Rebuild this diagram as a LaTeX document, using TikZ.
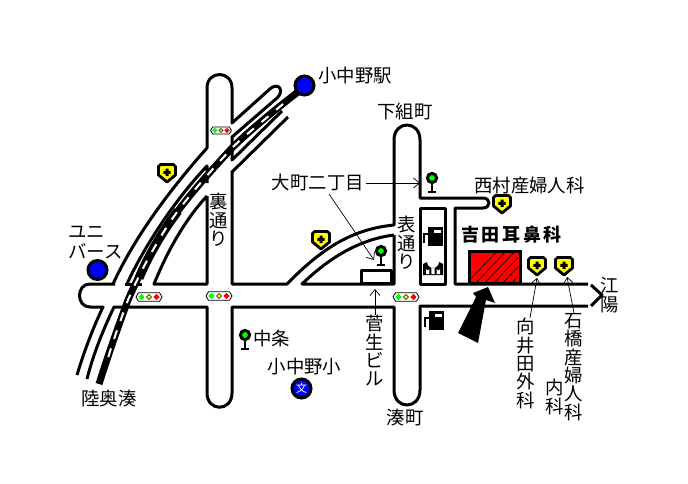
\documentclass[tikz,border=0pt]{standalone}
\usepackage{fontspec}
\usetikzlibrary{arrows.meta}
\newfontfamily\jp{Noto Sans CJK JP}
\definecolor{mapblue}{RGB}{0,0,255}
\definecolor{mapgreen}{RGB}{0,255,0}
\definecolor{mapyellow}{RGB}{255,255,0}
\definecolor{mapred}{RGB}{255,0,0}
\tikzset{
  road/.style={line width=3pt,line join=round},
  lead/.style={line width=0.7pt,-{Straight Barb[length=6pt,width=10pt,line width=0.7pt]}},
  lab/.style={font=\jp\fontsize{18.4}{18.4}\selectfont,align=center,inner sep=0pt,text=black},
  bluedot/.style={circle,draw=black,fill=mapblue,line width=3pt,minimum size=19pt,inner sep=0pt},
}
\newcommand{\HospMark}[2]{\begin{scope}[shift={(#1,#2)}]
  \draw[fill=mapyellow,line width=2.8pt,line join=round] (-6.5,-8.5)--(6.5,-8.5)--(8.5,-6.5)--(8.5,2)--(0,9)--(-8.5,2)--(-8.5,-6.5)--cycle;
  \fill[black] (-1.5,-4.5)rectangle(1.5,3) (-3.7,-2.2)rectangle(3.7,0.8);
\end{scope}}
\newcommand{\SignalMark}[3]{\begin{scope}[shift={(#1,#2)},xscale=#3,yscale=#3]
  \draw[fill=white,line width=0.8pt] (-13,0)--(-10.5,-4.3)--(10.5,-4.3)--(13,0)--(10.5,4.3)--(-10.5,4.3)--cycle;
  \fill[mapgreen] (-7.5,-3.2)--(-4.3,0)--(-7.5,3.2)--(-10.7,0)--cycle;
  \draw[fill=mapyellow,line width=0.4pt] (0,-2.5)--(2.5,0)--(0,2.5)--(-2.5,0)--cycle;
  \fill[mapred] (7.5,-3.2)--(10.7,0)--(7.5,3.2)--(4.3,0)--cycle;
\end{scope}}
\newcommand{\TreeMark}[2]{\begin{scope}[shift={(#1,#2)}]
  \draw[line width=2.6pt] (0,3)--(0,14);
  \draw[line width=2.4pt] (-3.6,14)--(3.6,14);
  \draw[fill=mapgreen,line width=3pt] (0,0) circle (4.6);
\end{scope}}
\newcommand{\PumpMark}[2]{\begin{scope}[shift={(#1,#2)}]
  \fill[black] (-5,-9.5) rectangle (10,9.5);
  \fill[white] (1,-6.5) rectangle (8,-3.5);
  \draw[line width=1.2pt] (-5,-2)--(-9,-2)--(-9,7);
  \fill[black] (-10,-3) rectangle (-8,0);
\end{scope}}
\newcommand{\ArchMark}[2]{\begin{scope}[shift={(#1,#2)}]
  \fill[black] (-10,10) -- (-10,-1) -- (-6,-3) arc (180:0:6) -- (10,-1) -- (10,10) -- cycle;
  \fill[white] (-7,9) -- (-7,4) arc (180:0:1.7) -- (-3.6,9) -- cycle;
  \fill[white] (3.6,9) -- (3.6,4) arc (180:0:1.7) -- (7,9) -- cycle;
  \fill[white] (-1.7,9) -- (-1.7,2) arc (180:0:1.7) -- (1.7,9) -- cycle;
\end{scope}}
\begin{document}
\begin{tikzpicture}[x=1pt,y=-1pt]
\useasboundingbox[fill=white] (0,0) rectangle (688,484);

% main roads
\draw[road] (115,284) -- (90,284) .. controls (76,284) and (76,307) .. (90,307) -- (103,307)
  .. controls (92,330) and (83,355) .. (77,375);
\draw[road] (87,379) .. controls (93,355) and (103,330) .. (114,307) -- (207,307) -- (207,393)
  .. controls (207,412) and (232,412) .. (232,393) -- (232,307) -- (394,307) -- (394,390)
  .. controls (394,410) and (420,410) .. (420,390) -- (420,306) -- (588,306);
\draw[road] (588,284) -- (455,284) -- (455,208) -- (483,208) .. controls (491,208) and (491,198) .. (483,198)
  -- (420,198) -- (420,140) .. controls (420,120) and (394,120) .. (394,140) -- (394,225)
  .. controls (355,229) and (325,245) .. (287,284) -- (232,284) -- (232,172) -- (288,117);
\draw[road] (113,284) .. controls (125,258) and (150,212) .. (207,148) -- (207,88)
  .. controls (207,70) and (232,70) .. (232,88) -- (232,123) -- (271,88)
  .. controls (280,82) and (284,92) .. (277,98) -- (232,137) -- (232,160) -- (282,111);
\draw[road] (125,284) -- (142,284);
\draw[road] (127,284) .. controls (140,255) and (170,205) .. (207,166) -- (207,183);
\draw[road] (207,196) -- (207,284) -- (154,284) .. controls (163,262) and (180,225) .. (207,196);
\draw[road] (394,235) -- (394,284) -- (302,284) .. controls (325,262) and (355,240) .. (394,235);
\draw[road] (591,285) -- (602,295) -- (591,306);

% railway
\draw[line width=7pt,line join=round] (298,92) .. controls (268,115) and (245,135) .. (232,148)
  .. controls (207,175) and (185,200) .. (170,222)
  .. controls (155,245) and (140,272) .. (128,300)
  .. controls (115,335) and (105,365) .. (99,384);
\draw[line width=9pt] (178,211) .. controls (165,228) and (150,252) .. (139,278);
\draw[white,line width=2pt,dash pattern=on 9pt off 10pt] (283,104) .. controls (262,122) and (245,135) .. (232,148)
  .. controls (207,175) and (185,200) .. (170,222)
  .. controls (155,245) and (140,272) .. (128,300)
  .. controls (120,322) and (115,335) .. (108,358);

% buildings
\draw[road] (420,208) rectangle (445,284);
\draw[road] (361,270) rectangle (391,283);
\draw[line width=3pt,fill=mapred] (469,251) rectangle (520,283);
\begin{scope}
  \clip (471,253) rectangle (518,281);
  \foreach \d in {0,9,...,90} \draw[line width=0.6pt] (462+\d,288) -- (502+\d,246);
\end{scope}

% big arrow
\fill[black] (458,333) -- (476,297) -- (473,293) -- (488,287) -- (495,303) -- (486,300) -- (478,343) -- cycle;

% marks
\HospMark{167}{173}
\HospMark{321}{240}
\HospMark{502}{204}
\HospMark{537}{266}
\HospMark{564}{266}
\SignalMark{221}{130.5}{0.8}
\SignalMark{149}{297}{1}
\SignalMark{219}{296}{1}
\SignalMark{406}{297}{1}
\TreeMark{245}{335}
\TreeMark{381}{251}
\TreeMark{432}{178}
\PumpMark{433}{236}
\ArchMark{433}{265}
\PumpMark{434}{320}

\node[bluedot] (ekiDot) at (304.5,85.5) {};
\node[bluedot] (uniDot) at (97.5,270) {};
\node[bluedot,text=white,font=\jp\fontsize{11}{11}\selectfont] (schoolDot) at (301.5,388.5) {文};

% labels
\node[lab,anchor=west] (koname) at (318,76) {小中野駅};
\node[lab] (shimogumi) at (405,112) {下組町};
\node[lab,anchor=east] (omachi) at (364,183) {大町二丁目};
\node[lab,anchor=west] (nishimura) at (474,186) {西村産婦人科};
\node[anchor=center,inner sep=0pt,font=\jp\bfseries\fontsize{18}{18}\selectfont] (yoshida) at (511.5,235) {吉\hspace{2.6pt}田\hspace{2.6pt}耳\hspace{2.6pt}鼻\hspace{2.6pt}科};
\node[lab] (omote) at (407,243) {表\\通\\り};
\node[lab] (ura) at (219,220) {裏\\通\\り};
\node[lab,align=left,anchor=north west] (uni) at (68,226) {ユニ\\[1.5pt]バース};
\node[lab] (koyo) at (610,295) {江\\陽};
\node[lab,anchor=north] (mukai) at (526,318) {向\\井\\田\\外\\科};
\node[lab,anchor=north] (ishibashi) at (574,313) {石\\橋\\産\\婦\\人\\科};
\node[lab,anchor=north] (naika) at (555,379) {内\\科};
\node[lab,anchor=north] (sugo) at (375,315) {菅\\生\\ビ\\ル};
\node[lab] (minatomachi) at (405,418) {湊町};
\node[lab] (mutsu) at (109,399) {陸奥湊};
\node[lab,anchor=west] (chujo) at (253,338) {中条};
\node[lab] (konakanosho) at (304.5,367) {小中野小};

% leaders
\coordinate (treeEnd) at (420,183);
\coordinate (treeB) at (374,260);
\coordinate (bldEnd) at (375,289);
\coordinate (hospA) at (537,278);
\coordinate (hospB) at (567,277);
\draw[lead] (omachi.east) ++(2,0) -- (treeEnd);
\draw[lead] (329,194) -- (treeB);
\draw[lead] (sugo.north) -- (bldEnd);
\draw[lead] (mukai.north) ++(4,0) -- (hospA);
\draw[lead] (ishibashi.north) -- (hospB);
\end{tikzpicture}
\end{document}
